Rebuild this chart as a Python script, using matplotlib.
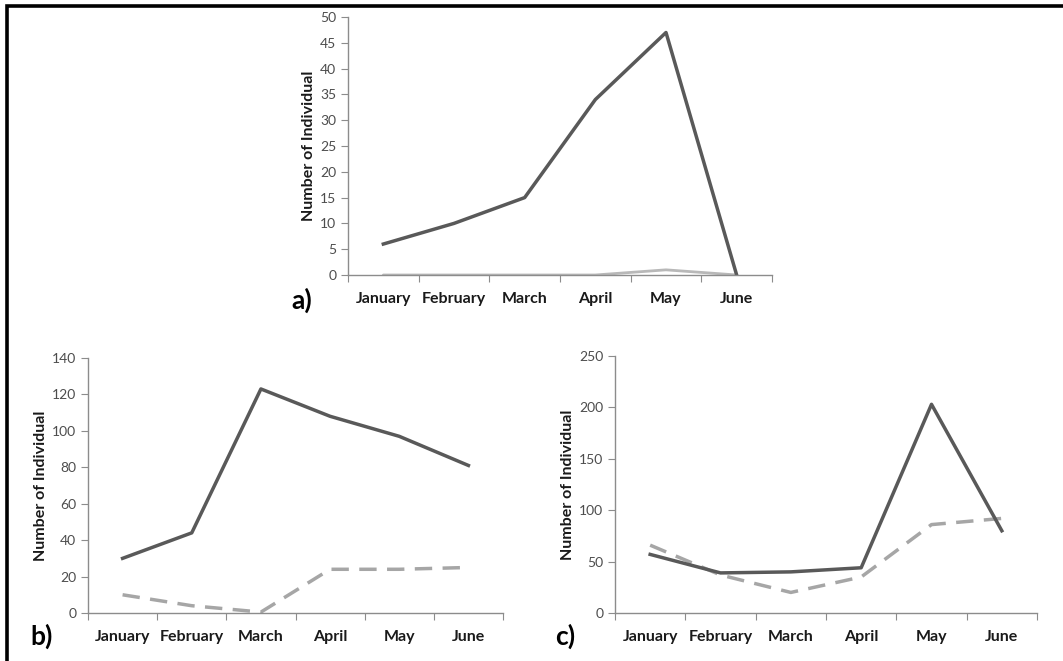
import numpy as np
import matplotlib
matplotlib.use("Agg")
import matplotlib.pyplot as plt
from matplotlib.lines import Line2D

plt.rcParams['font.family'] = ['Lato', 'DejaVu Sans']

months = ["January", "February", "March", "April", "May", "June"]

a_solid = [6, 10, 15, 34, 47, 0]
a_light = [0, 0, 0, 0, 1, 0]

b_solid = [30, 44, 123, 108, 97, 81]
b_dashed = [10, 4, 0.5, 24, 24, 25]

c_solid = [57, 39, 40, 44, 203, 80]
c_dashed = [66, 37, 20, 35, 86, 92]

W, H = 1063, 661
fig = plt.figure(figsize=(W / 100, H / 100), dpi=100)

DARK = "#595959"
LIGHT = "#a6a6a6"
AXC = "#8c8c8c"


def px_axes(l, r, t, b):
    return fig.add_axes([l / W, 1 - b / H, (r - l) / W, (b - t) / H])


def style(ax, ymax, ystep, panel, panel_xy):
    x = np.arange(len(months))
    ax.set_xlim(-0.5, len(months) - 0.5)
    ax.set_ylim(0, ymax)
    ax.set_yticks(np.arange(0, ymax + 1, ystep))
    ax.set_xticks(np.arange(-0.5, len(months), 1))
    ax.set_xticklabels([])
    ax.set_xticks(x, minor=True)
    ax.set_xticklabels(months, minor=True, fontweight='bold', fontsize=11.5, color="#1a1a1a")
    ax.tick_params(axis='x', which='major', length=5, color=AXC, direction='out')
    ax.tick_params(axis='x', which='minor', length=0, pad=12)
    ax.tick_params(axis='y', length=5, color=AXC, labelsize=10, labelcolor="#4d4d4d")
    for s in ['top', 'right']:
        ax.spines[s].set_visible(False)
    for s in ['left', 'bottom']:
        ax.spines[s].set_color(AXC)
        ax.spines[s].set_linewidth(1.0)
    ax.set_ylabel("Number of Individual", fontweight='bold', fontsize=11.5, color="#1a1a1a",
                  labelpad=3)
    fig.text(panel_xy[0] / W, 1 - panel_xy[1] / H, panel, fontsize=19,
             fontweight='bold', ha='center', va='center', color="black")


x = np.arange(len(months))

# Panel a
ax_a = px_axes(348, 772, 17, 275)
ax_a.plot(x, a_light, color="#b8b8b8", lw=2.0, solid_capstyle='round')
ax_a.plot(x, a_solid, color=DARK, lw=2.5)
style(ax_a, 50, 5, "a)", (302, 300))

# Panel b
ax_b = px_axes(88, 503, 358, 613)
ax_b.plot(x, b_dashed, color=LIGHT, lw=2.5, dashes=(5, 3))
ax_b.plot(x, b_solid, color=DARK, lw=2.5)
style(ax_b, 140, 20, "b)", (42, 636))

# Panel c
ax_c = px_axes(615, 1037, 356, 613)
ax_c.plot(x, c_dashed, color=LIGHT, lw=2.5, dashes=(5, 3))
ax_c.plot(x, c_solid, color=DARK, lw=2.5)
style(ax_c, 250, 50, "c)", (565, 636))

# outer frame (top and left visible)
fx = 7 / W
fy = 1 - 6 / H
fig.add_artist(Line2D([fx, fx, 1.0], [0.0, fy, fy], transform=fig.transFigure,
                      color="black", lw=2.6, solid_joinstyle='miter'))

fig.savefig("out.png", dpi=100)
